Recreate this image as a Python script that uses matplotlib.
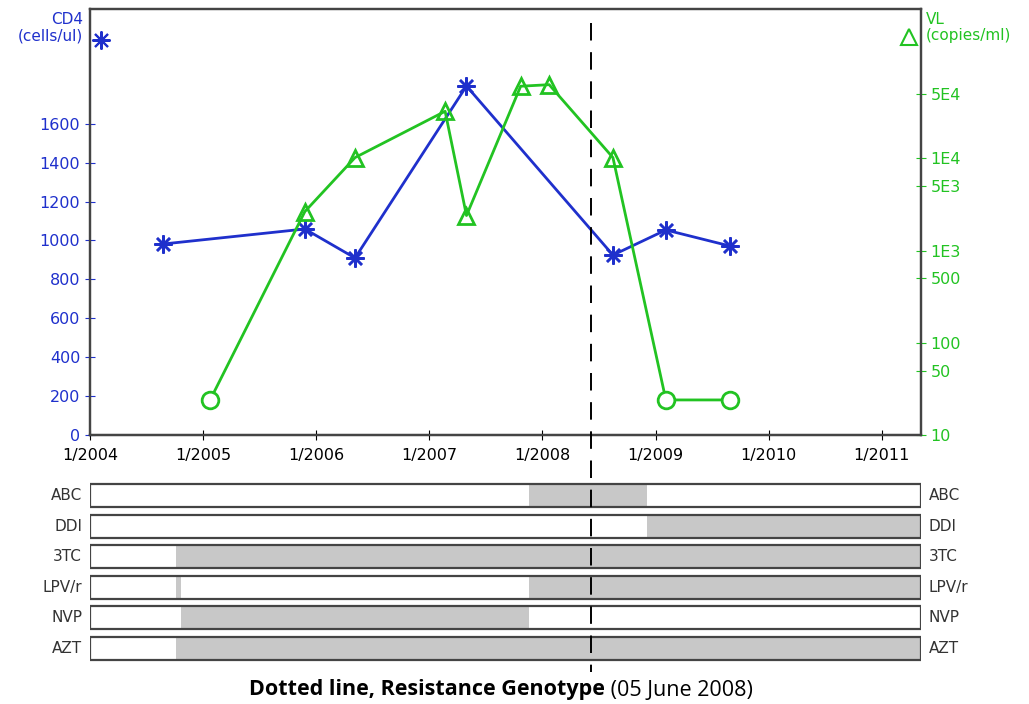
import matplotlib
matplotlib.use("Agg")
import matplotlib.pyplot as plt
import matplotlib.dates as mdates
import matplotlib.transforms as mtransforms
import pandas as pd

# CD4 counts (cells/ul)
cd4_dates = ["2004-08-25", "2005-11-25", "2006-05-06", "2007-05-01",
             "2008-08-16", "2009-02-03", "2009-08-28"]
cd4_values = [982, 1059, 910, 1794, 925, 1054, 972]

# viral load (copies/ml); undetectable ones drawn as circles
vl_dates = ["2005-01-23", "2005-11-25", "2006-05-06", "2007-02-21", "2007-05-01",
            "2007-10-23", "2008-01-23", "2008-08-16", "2009-02-03", "2009-08-28"]
vl_values = [24, 2650, 10200, 32400, 2400, 60600, 63000, 10200, 24, 24]
vl_undetect = [True, False, False, False, False, False, False, False, True, True]

# drug periods
drugs = ["ABC", "DDI", "3TC", "LPV/r", "NVP", "AZT"]
drug_periods = {
    "ABC": [("2007-11-20", "2008-12-05")],
    "DDI": [("2008-12-05", "2011-05-08")],
    "3TC": [("2004-10-05", "2011-05-08")],
    "LPV/r": [("2004-10-05", "2004-10-20"), ("2007-11-20", "2011-05-08")],
    "NVP": [("2004-10-20", "2007-11-20")],
    "AZT": [("2004-10-05", "2011-05-08")],
}
genotype_date = "2008-06-05"

xticks = ["2004-01-01", "2005-01-01", "2006-01-01", "2007-01-01",
          "2008-01-01", "2009-01-01", "2010-01-01", "2011-01-01"]
xtick_labels = ["1/2004", "1/2005", "1/2006", "1/2007", "1/2008", "1/2009", "1/2010", "1/2011"]
vl_ticks = [10, 50, 100, 500, 1000, 5000, 10000, 50000]
vl_tick_labels = ["10", "50", "100", "500", "1E3", "5E3", "1E4", "5E4"]

blue = "#1f30cc"
green = "#22c322"
frame = "#444444"
xmin = mdates.date2num(pd.Timestamp("2004-01-01"))
xmax = mdates.date2num(pd.Timestamp("2011-05-08"))

fig = plt.figure(figsize=(10.29, 7.04), dpi=100)
ax = fig.add_axes([90 / 1029, 1 - 435 / 704, 831 / 1029, 426 / 704])
ax2 = ax.twinx()

cd4_x = mdates.date2num(pd.to_datetime(cd4_dates))
vl_x = mdates.date2num(pd.to_datetime(vl_dates))

ax.plot(cd4_x, cd4_values, color=blue, lw=2, marker=(8, 2, 0), ms=13, mew=1.8, zorder=3)
ax2.plot(vl_x, vl_values, color=green, lw=2, zorder=3)
for x, v, u in zip(vl_x, vl_values, vl_undetect):
    ax2.plot([x], [v], marker="o" if u else "^", ms=12, mfc="white" if u else "none",
             mec=green, mew=2, ls="none", zorder=4)

ax.set_xlim(xmin, xmax)
ax.set_ylim(0, 2190)
ax.set_yticks(range(0, 1601, 200))
ax.tick_params(axis="y", colors=blue, labelcolor=blue, direction="inout", length=7, labelsize=11.5)
ax.set_xticks(mdates.date2num(pd.to_datetime(xticks)))
ax.set_xticklabels(xtick_labels)
ax.tick_params(axis="x", colors="black", direction="inout", length=7, labelsize=11.5, pad=6)

ax2.set_yscale("log")
ax2.set_ylim(10, 10 ** 5.62)
ax2.set_yticks(vl_ticks)
ax2.set_yticklabels(vl_tick_labels)
ax2.minorticks_off()
ax2.tick_params(axis="y", colors=green, labelcolor=green, direction="inout", length=7, labelsize=11.5)

for a in (ax, ax2):
    for s in a.spines.values():
        s.set_color(frame)
        s.set_linewidth(1.6)
ax.spines["bottom"].set_color("black")

fig.text(83 / 1029, 1 - 12 / 704, "CD4\n(cells/ul)", color=blue, fontsize=11, ha="right", va="top",
         linespacing=1.1)
fig.text(926 / 1029, 1 - 12 / 704, "VL\n(copies/ml)", color=green, fontsize=11, ha="left", va="top",
         linespacing=1.1)
fig.lines.append(plt.Line2D([101 / 1029], [1 - 40 / 704], marker=(8, 2, 0), ms=13, mew=1.5,
                            color=blue, transform=fig.transFigure))
fig.lines.append(plt.Line2D([909 / 1029], [1 - 37 / 704], marker="^", ms=12, mew=1.5, mfc="none",
                            mec=green, transform=fig.transFigure))

# drug bars
bx = fig.add_axes([90 / 1029, 1 - 663.5 / 704, 831 / 1029, 183 / 704])
bx.set_xlim(xmin, xmax)
bx.set_ylim(len(drugs), 0)
bx.axis("off")
h = 0.77
for i, d in enumerate(drugs):
    y0 = i + (1 - h) / 2
    for s, e in drug_periods[d]:
        s0 = mdates.date2num(pd.Timestamp(s))
        e0 = mdates.date2num(pd.Timestamp(e))
        bx.broken_barh([(s0, e0 - s0)], (y0, h), facecolor="#c8c8c8", edgecolor="none")
    bx.add_patch(plt.Rectangle((xmin, y0), xmax - xmin, h, fill=False, edgecolor=frame, lw=1.6))
    bx.text(xmin - 0.07 * 365, i + 0.5, d, ha="right", va="center", fontsize=11, color="#333333")
    bx.text(xmax + 0.07 * 365, i + 0.5, d, ha="left", va="center", fontsize=11, color="#333333")

# resistance genotype line across both panels
gx = mdates.date2num(pd.Timestamp(genotype_date))
trans = mtransforms.blended_transform_factory(ax.transData, fig.transFigure)
fig.lines.append(plt.Line2D([gx, gx], [1 - 23 / 704, 1 - 672 / 704], color="black", lw=1.4,
                            dashes=(9, 6), transform=trans))

fig.text(605 / 1029, 1 - 690 / 704, "Dotted line, Resistance Genotype", fontsize=15.5,
         fontweight="bold", family="Open Sans", ha="right", va="center")
fig.text(605 / 1029, 1 - 690 / 704, " (05 June 2008)", fontsize=15.5, family="Open Sans",
         ha="left", va="center")

fig.savefig("out.png", dpi=100)
